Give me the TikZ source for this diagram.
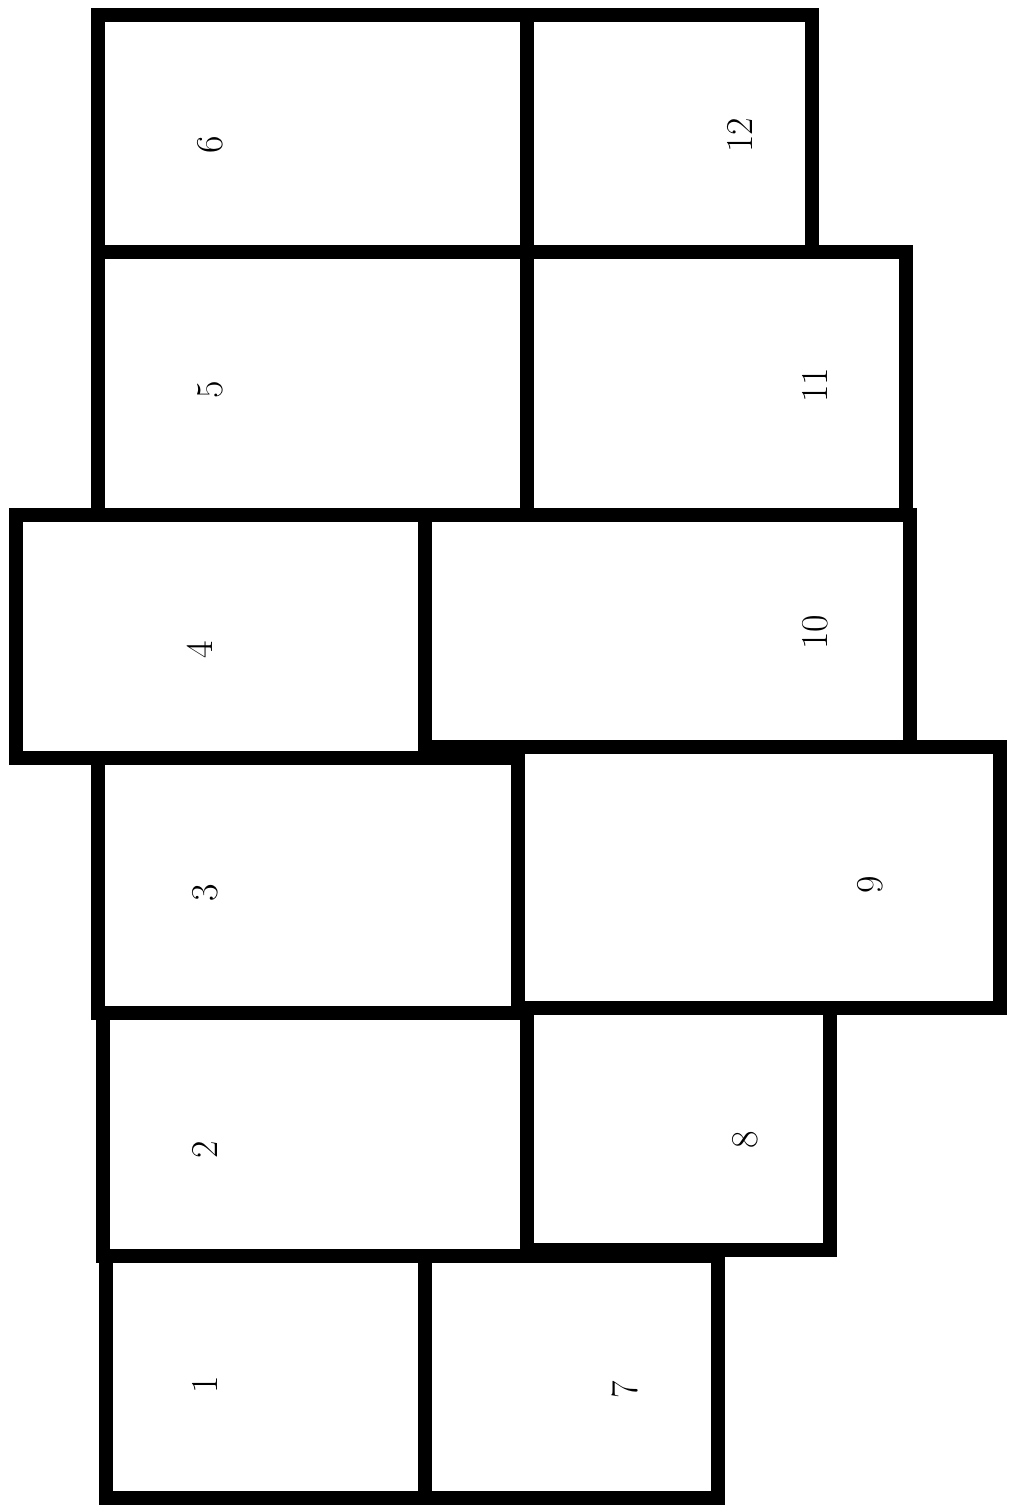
\documentclass[tikz,border=0pt]{standalone}
\usepackage{tikz}

\begin{document}
\begin{tikzpicture}[
  x=0.025cm, y=-0.025cm,
  cell/.style={draw=black, line width=0.36cm, line join=miter},
  num/.style={rotate=90, font=\fontsize{27}{27}\selectfont, inner sep=0pt}
]
\useasboundingbox (0,0) rectangle (1010,1508);

% left row
\draw[cell] (98,15) rectangle (527,252);
\draw[cell] (98,252) rectangle (527,515);
\draw[cell] (16,515) rectangle (425,758);
\draw[cell] (98,758) rectangle (518,1013);
\draw[cell] (103,1013) rectangle (527,1256);
\draw[cell] (106,1256) rectangle (425,1498);

% right row
\draw[cell] (527,15) rectangle (812,252);
\draw[cell] (527,252) rectangle (906,515);
\draw[cell] (425,515) rectangle (910,747);
\draw[cell] (518,747) rectangle (1000,1008);
\draw[cell] (527,1008) rectangle (830,1250);
\draw[cell] (425,1256) rectangle (718,1498);

% numbers
\node[num] (n1) at (205,1385) {1};
\node[num] (n2) at (205,1150) {2};
\node[num] (n3) at (205,893) {3};
\node[num] (n4) at (200,650) {4};
\node[num] (n5) at (210,390) {5};
\node[num] (n6) at (210,145) {6};
\node[num] (n7) at (625,1390) {7};
\node[num] (n8) at (745,1140) {8};
\node[num] (n9) at (870,885) {9};
\node[num] (n10) at (815,632) {10};
\node[num] (n11) at (815,385) {11};
\node[num] (n12) at (740,135) {12};

\end{tikzpicture}
\end{document}
